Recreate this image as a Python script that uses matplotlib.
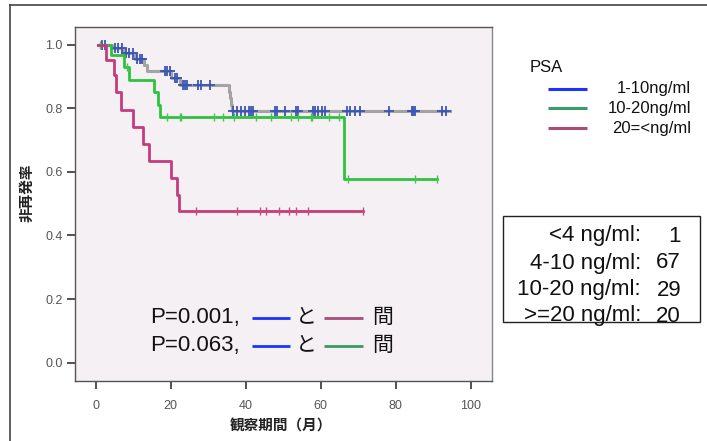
import numpy as np
import matplotlib
matplotlib.use('Agg')
import matplotlib.pyplot as plt

plt.rcParams['font.family'] = ['Liberation Sans', 'Noto Sans CJK JP']

# ---------------- data ----------------
group_labels = ['1-10ng/ml', '10-20ng/ml', '20=<ng/ml']

# group 1 (1-10 ng/ml): step times and survival levels
g1_t = [0.7, 4.3, 7.4, 10.5, 12.9, 13.6, 20.2, 22.5, 35.6, 35.9, 36.1, 36.3, 94.4]
g1_s = [1.0, 0.990, 0.974, 0.955, 0.935, 0.916, 0.897, 0.874, 0.853, 0.832, 0.812, 0.792, 0.792]
g1_cens = [1.6, 2.5, 5.1, 6.0, 6.9, 8.1, 9.0, 9.9, 10.9, 11.8, 12.3, 18.5, 19.1, 19.8,
           21.1, 21.7, 23.3, 23.8, 24.3, 27.3, 28.2, 30.5, 36.5, 37.6, 38.6, 39.8, 40.9,
           41.4, 42.0, 47.8, 48.4, 50.4, 53.4, 54.0, 58.0, 58.4, 59.3, 60.2, 61.1, 66.9,
           67.8, 69.1, 70.4, 78.2, 84.2, 84.6, 85.1, 92.2, 93.4]

# group 2 (10-20 ng/ml)
g2_t = [0.7, 4.2, 7.6, 9.0, 15.6, 16.6, 17.1, 66.1, 91.0]
g2_s = [1.0, 0.967, 0.929, 0.889, 0.853, 0.812, 0.772, 0.578, 0.578]
g2_cens = [1.1, 8.3, 18.9, 22.4, 22.7, 31.6, 34.0, 36.9, 42.7, 46.6, 52.1, 54.0, 57.4,
           57.6, 62.2, 64.9, 67.3, 85.1, 90.9]

# group 3 (20=< ng/ml)
g3_t = [0.7, 2.7, 4.9, 5.5, 6.7, 10.0, 12.7, 14.3, 20.0, 21.7, 22.1, 71.3]
g3_s = [1.0, 0.953, 0.906, 0.850, 0.795, 0.740, 0.688, 0.634, 0.582, 0.527, 0.477, 0.477]
g3_cens = [26.8, 37.7, 43.8, 45.4, 48.8, 51.4, 53.5, 56.6, 71.2]

x_ticks = [0, 20, 40, 60, 80, 100]
y_ticks = [0.0, 0.2, 0.4, 0.6, 0.8, 1.0]

count_labels = ['<4 ng/ml:', '4-10 ng/ml:', '10-20 ng/ml:', '>=20 ng/ml:']
count_values = [1, 67, 29, 20]

p_values = ['P=0.001,', 'P=0.063,']

# ---------------- figure ----------------
W, H = 707, 441
fig = plt.figure(figsize=(W / 100, H / 100), dpi=100)
fig.patch.set_facecolor('white')

L, R, T, B = 75, 492, 27, 381
ax = fig.add_axes([L / W, 1 - B / H, (R - L) / W, (B - T) / H])
ax.set_facecolor('#f4f0f4')
ax.set_xlim(-5.5, 105.6)
ax.set_ylim(-0.058, 1.056)


def level(ts, ss, x):
    ts = np.asarray(ts)
    ss = np.asarray(ss)
    idx = np.searchsorted(ts, x, side='right') - 1
    return ss[np.clip(idx, 0, len(ss) - 1)]


line_cols = ['#a3a3a3', '#2ec23e', '#c53c7c']
cens_cols = ['#3b55b5', '#44c455', '#c84a85']

ax.step(g1_t, g1_s, where='post', color=line_cols[0], lw=2.2, zorder=2)
ax.plot(g1_cens, level(g1_t, g1_s, g1_cens), ls='none', marker='+',
        ms=7, mew=1.3, color=cens_cols[0], zorder=2.5)
ax.step(g2_t, g2_s, where='post', color=line_cols[1], lw=2.0, zorder=3)
ax.plot(g2_cens, level(g2_t, g2_s, g2_cens), ls='none', marker='|',
        ms=6, mew=1.0, color=cens_cols[1], zorder=3.5)
ax.step(g3_t, g3_s, where='post', color=line_cols[2], lw=2.0, zorder=4)
ax.plot(g3_cens, level(g3_t, g3_s, g3_cens), ls='none', marker='|',
        ms=6, mew=1.0, color=cens_cols[2], zorder=4.5)

ax.set_xticks(x_ticks)
ax.set_yticks(y_ticks)
ax.set_yticklabels([f'{v:.1f}' for v in y_ticks])
ax.tick_params(direction='out', length=6, width=1.2, color='#333333',
               labelsize=9, labelcolor='#555555')
ax.tick_params(axis='y', pad=3)
ax.tick_params(axis='x', pad=8)
for s in ax.spines.values():
    s.set_color('#555555')
    s.set_linewidth(1.0)
ax.spines['right'].set_color('#888888')

# ---------------- overlay in pixel coords ----------------
ov = fig.add_axes([0, 0, 1, 1], zorder=10)
ov.set_xlim(0, W)
ov.set_ylim(H, 0)
ov.axis('off')
ov.patch.set_alpha(0)

# outer frame
ov.plot([10, 10], [5, H], color='#444444', lw=1.2)
ov.plot([10, W], [5, 5], color='#444444', lw=1.2)

# axis labels
ov.text(27, 193, '非再発率', rotation=90, ha='center', va='center',
        fontsize=10.5, fontweight='bold', color='#222222')
ov.text(281, 427, '観察期間（月）', ha='center', va='center',
        fontsize=10.5, fontweight='bold', color='#222222')

# legend
leg_cols = ['#1a33ff', '#3a9a6a', '#a84c78']
ov.text(530, 68, 'PSA', ha='left', va='center', fontsize=12, color='#111111')
leg_y = [89, 108, 128]
for lab, c, y in zip(group_labels, leg_cols, leg_y):
    ov.plot([548, 587], [y, y], color=c, lw=2.2, solid_capstyle='butt')
    ov.text(691, y, lab, ha='right', va='center', fontsize=12, color='#111111')

# counts box
ov.add_patch(plt.Rectangle((503, 216), 197, 106, fill=False, ec='#222222', lw=1.0))
row_y = [236, 263, 290, 316]
for lab, v, y in zip(count_labels, count_values, row_y):
    ov.text(641, y, lab, ha='right', va='center', fontsize=16, color='#111111')
    ov.text(681, y, str(v), ha='right', va='center', fontsize=16, color='#111111')

# p-value annotation
p_rows = [317, 345]
second_cols = [leg_cols[2], leg_cols[1]]
for txt, y, c2 in zip(p_values, p_rows, second_cols):
    ov.text(150, y, txt, ha='left', va='center', fontsize=16, color='#111111')
    ov.plot([252, 290], [y + 1, y + 1], color=leg_cols[0], lw=2.0, solid_capstyle='butt')
    ov.text(306.5, y, 'と', ha='center', va='center', fontsize=15, color='#111111')
    ov.plot([324, 363], [y + 1, y + 1], color=c2, lw=2.0, solid_capstyle='butt')
    ov.text(383, y, '間', ha='center', va='center', fontsize=15, color='#111111')

fig.savefig('out.png', dpi=100)
